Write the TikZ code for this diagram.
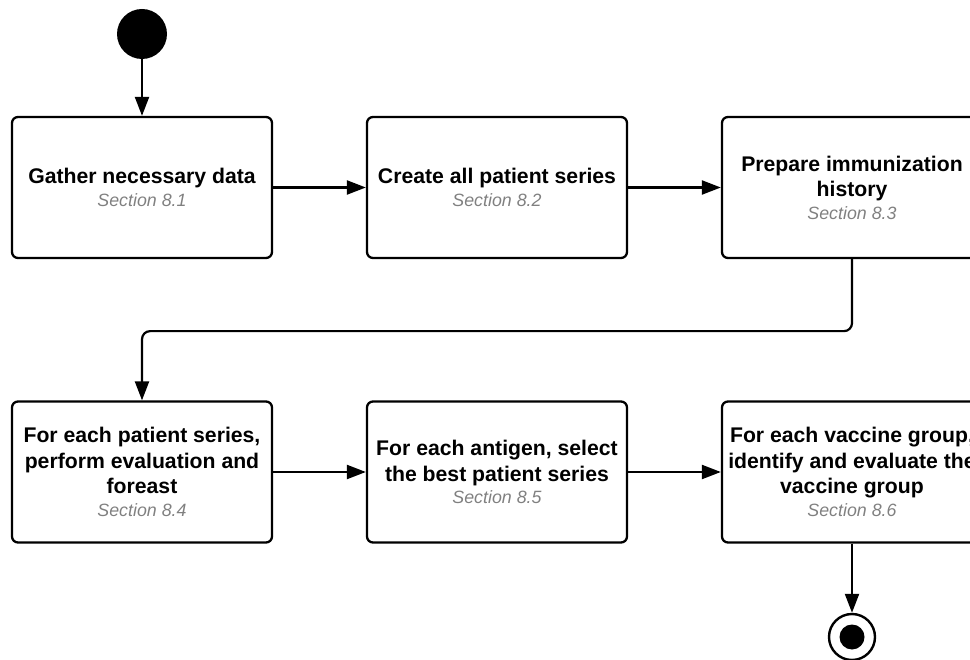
\documentclass[tikz,border=0pt]{standalone}
\usepackage{fontspec}
\setmainfont{Liberation Sans}
\usetikzlibrary{arrows.meta}

\tikzset{
  stepbox/.style={draw, rounded corners=6pt, line width=2.3pt, align=center,
    minimum width=260pt, minimum height=141pt, inner sep=2pt,
    font=\fontsize{21.2}{25.5}\selectfont\bfseries},
  flow/.style={line width=2.2pt, -{Triangle[length=19pt, width=14pt]}}
}
\newcommand{\sectag}[1]{{\fontsize{17.8}{21}\selectfont\mdseries\itshape\color{black!50}Section #1}}

\begin{document}
\begin{tikzpicture}[x=1pt, y=-1pt]
  % canvas 970 x 660, right edge cuts the last box
  \useasboundingbox (0,0) rectangle (970,660);
  \clip (0,0) rectangle (970,660);

  % ---------------- start / end ----------------
  \node[circle, fill=black, minimum size=50pt, inner sep=0pt] (start) at (142,34) {};
  \node[circle, draw, line width=2.4pt, minimum size=46pt, inner sep=0pt] (stop) at (852,637) {};
  \fill (stop.center) circle (12.5);

  % ---------------- row 1 ----------------
  \node[stepbox] (gather)  at (142,187.5) {Gather necessary data\\[-3pt]\sectag{8.1}};
  \node[stepbox] (create)  at (497,187.5) {Create all patient series\\[-3pt]\sectag{8.2}};
  \node[stepbox] (prepare) at (852,187.5) {Prepare immunization\\history\\[-3pt]\sectag{8.3}};

  % ---------------- row 2 ----------------
  \node[stepbox] (evaluate) at (142,472) {For each patient series,\\perform evaluation and\\foreast\\[-3pt]\sectag{8.4}};
  \node[stepbox] (select)   at (497,472) {For each antigen, select\\the best patient series\\[-3pt]\sectag{8.5}};
  \node[stepbox] (vaccine)  at (852,472) {For each vaccine group,\\identify and evaluate the\\vaccine group\\[-3pt]\sectag{8.6}};

  % connectors
  \draw[flow] (start) -- (gather);
  \draw[flow] (gather) -- (create);
  \draw[flow] (create) -- (prepare);
  \draw[flow, rounded corners=8pt] (prepare.south) -- ++(0,72) -| (evaluate.north);
  \draw[flow] (evaluate) -- (select);
  \draw[flow] (select) -- (vaccine);
  \draw[flow] (vaccine) -- (stop);
\end{tikzpicture}
\end{document}
